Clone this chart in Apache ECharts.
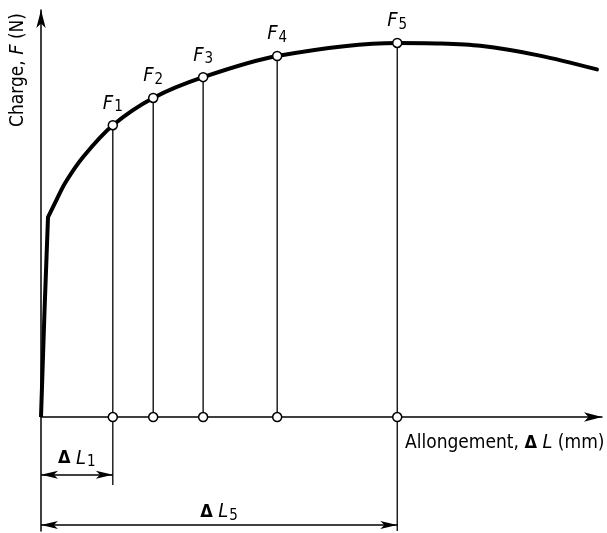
<!DOCTYPE html>
<html><head><meta charset="utf-8">
<script src="https://cdn.jsdelivr.net/npm/echarts@6/dist/echarts.min.js"></script>
<style>html,body{margin:0;padding:0;background:#fff}#c{width:607px;height:533px}</style>
</head><body><div id="c"></div>
<script>
// ---- data (arbitrary units) ----
const elasticX = [0, 0.6, 1.25];
const elasticY = [0, 25, 49.1];
const curveX = [1.25, 2.5, 4.3, 7.5, 12.8, 20.0, 28.9, 42.1, 63.5, 70.5, 78.3, 88.9, 99.1];
const curveY = [49.1, 52.6, 57.5, 63.9, 71.7, 78.4, 83.5, 88.7, 91.9, 91.8, 91.2, 88.8, 85.4];
const pointNames = ['1', '2', '3', '4', '5'];
const pointX = [12.8, 20.0, 28.9, 42.1, 63.5];
const pointY = [71.7, 78.4, 83.5, 88.7, 91.9];
const dimNames = ['1', '5'];
const dimIndex = [0, 4];
const dimLineY = [-14.2, -26.5];
const dimTextY = [-10.2, -23.3];
const extEndY = [-16.7, -28];
const xLabel = ['Allongement, ', 'Δ', 'L', ' (mm)'];
const yLabel = ['Charge, ', 'F', ' (N)'];

const FONT = '"DejaVu Sans Condensed", "Liberation Sans Narrow", "DejaVu Sans", sans-serif';
const FS = 19;
const rich = {
  a: {fontFamily: FONT, fontSize: FS, color: '#000'},
  i: {fontFamily: FONT, fontSize: FS + 1, fontStyle: 'italic', color: '#000'},
  d: {fontFamily: FONT, fontSize: FS - 1, fontWeight: 'bold', color: '#000'},
  s: {fontFamily: FONT, fontSize: FS - 4, color: '#000', verticalAlign: 'bottom', padding: [8, 0, 0, 1]}
};

const series = [];
series.push({type: 'line', data: elasticX.map((x, i) => [x, elasticY[i]]), symbol: 'none',
  lineStyle: {color: '#000', width: 4}, z: 5, silent: true});
series.push({type: 'line', data: curveX.map((x, i) => [x, curveY[i]]), symbol: 'none', smooth: 0.3,
  lineStyle: {color: '#000', width: 4, cap: 'round'}, z: 5, silent: true});
pointX.forEach((x, i) => {
  series.push({type: 'line', data: [[x, 0], [x, pointY[i]]], symbol: 'none',
    lineStyle: {color: '#000', width: 1.3}, z: 3, silent: true});
});
dimIndex.forEach((pi, k) => {
  series.push({type: 'line', data: [[pointX[pi], 0], [pointX[pi], extEndY[k]]], symbol: 'none',
    lineStyle: {color: '#000', width: 1.3}, z: 3, silent: true});
});
// dimension arrows
series.push({type: 'line', data: [], symbol: 'none',
  markLine: {silent: true, symbol: ['arrow', 'arrow'], symbolSize: [6, 17],
    lineStyle: {color: '#000', width: 1.5, type: 'solid'}, label: {show: false},
    data: dimIndex.map((pi, k) => [{coord: [0, dimLineY[k]]}, {coord: [pointX[pi], dimLineY[k]]}])}});
// dimension texts
series.push({type: 'scatter', symbolSize: 0, z: 6, silent: true,
  itemStyle: {opacity: 1, color: '#000'},
  data: dimIndex.map((pi, k) => ({value: [pointX[pi] / 2, dimTextY[k]], name: dimNames[k]})),
  label: {show: true, position: 'inside', color: '#000', textBorderWidth: 0,
    formatter: p => '{d|Δ}{a| }{i|L}{s|' + p.name + '}', rich: rich}});
// markers on curve
series.push({type: 'scatter', symbol: 'circle', symbolSize: 9, z: 10, silent: true,
  itemStyle: {color: '#fff', borderColor: '#000', borderWidth: 1.5, opacity: 1},
  data: pointX.map((x, i) => ({value: [x, pointY[i]], name: pointNames[i]})),
  label: {show: true, position: 'top', distance: 5, color: '#000',
    formatter: p => '{i|F}{s|' + p.name + '}', rich: rich}});
// markers on axis
series.push({type: 'scatter', symbol: 'circle', symbolSize: 9, z: 10, silent: true,
  itemStyle: {color: '#fff', borderColor: '#000', borderWidth: 1.5, opacity: 1},
  data: pointX.map(x => [x, 0])});

const chart = echarts.init(document.getElementById('c'), null, {renderer: 'canvas'});
chart.setOption({
  animation: false,
  backgroundColor: '#fff',
  grid: {left: 41, top: 10, width: 561, height: 521, containLabel: false},
  xAxis: {type: 'value', min: 0, max: 100,
    axisLine: {show: true, onZero: true, symbol: ['none', 'arrow'], symbolSize: [7, 18],
      lineStyle: {color: '#000', width: 1.5}},
    axisTick: {show: false}, axisLabel: {show: false}, splitLine: {show: false}},
  yAxis: {type: 'value', min: -28, max: 100,
    axisLine: {show: true, onZero: false, symbol: ['none', 'arrow'], symbolSize: [7, 18],
      lineStyle: {color: '#000', width: 1.5}},
    axisTick: {show: false}, axisLabel: {show: false}, splitLine: {show: false}},
  graphic: [
    {type: 'text', x: 405, y: 443, silent: true,
      style: {text: '{a|' + xLabel[0] + '}{d|' + xLabel[1] + '}{a| }{i|' + xLabel[2] + '}{a|' + xLabel[3] + '}',
        rich: rich, align: 'left', verticalAlign: 'middle'}},
    {type: 'text', x: 18, y: 70, rotation: Math.PI / 2, silent: true,
      style: {text: '{a|' + yLabel[0] + '}{i|' + yLabel[1] + '}{a|' + yLabel[2] + '}',
        rich: rich, align: 'center', verticalAlign: 'middle'}}
  ],
  series: series
});
</script></body></html>
